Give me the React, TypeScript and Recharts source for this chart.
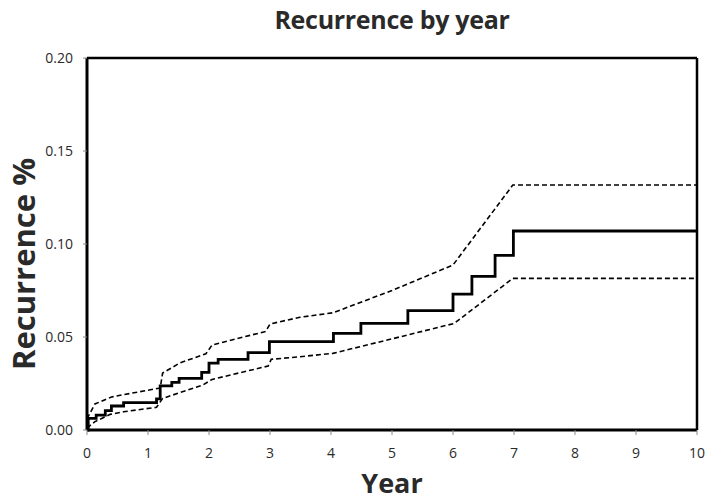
import React from 'react';
import { LineChart, Line, XAxis, YAxis, ReferenceLine, Label } from 'recharts';

// Kaplan-Meier style cumulative recurrence with 95% CI
const stepYears = [0, 0.02, 0.15, 0.3, 0.4, 0.6, 1.14, 1.2, 1.39, 1.51, 1.88, 2.0, 2.15, 2.64, 2.99, 4.04, 4.49, 5.26, 6.0, 6.31, 6.69, 6.99, 10];
const stepRate = [0, 0.0063, 0.008, 0.0104, 0.0129, 0.0147, 0.0167, 0.0237, 0.0256, 0.0278, 0.031, 0.036, 0.038, 0.0416, 0.0475, 0.052, 0.0573, 0.0642, 0.0731, 0.0826, 0.0939, 0.107, 0.107];

const upperYears = [0, 0.13, 0.4, 0.6, 1.2, 1.24, 1.52, 1.95, 2.05, 2.93, 3.0, 3.49, 4.03, 5.0, 6.0, 6.98, 10];
const upperRate = [0.006, 0.014, 0.0177, 0.019, 0.0226, 0.0306, 0.036, 0.041, 0.0457, 0.053, 0.057, 0.0606, 0.063, 0.075, 0.0887, 0.1317, 0.1317];

const lowerYears = [0, 0.13, 0.38, 0.6, 1.14, 1.24, 1.9, 2.05, 2.97, 3.02, 3.49, 4.03, 5.0, 6.02, 6.98, 10];
const lowerRate = [0.001, 0.0045, 0.0084, 0.0098, 0.0122, 0.017, 0.0242, 0.0272, 0.0344, 0.038, 0.0394, 0.0412, 0.049, 0.0573, 0.0815, 0.0815];

const xTicks = [0, 1, 2, 3, 4, 5, 6, 7, 8, 9, 10];
const yTicks = [0, 0.05, 0.1, 0.15, 0.2];

const toPoints = (xs: number[], ys: number[]) => xs.map((x, i) => ({ x, y: ys[i] }));

const stepData = toPoints(stepYears, stepRate);
const upperData = toPoints(upperYears, upperRate);
const lowerData = toPoints(lowerYears, lowerRate);

const font = '"Open Sans", sans-serif';

const App = () => {
  return (
    <div style={{ position: 'absolute', left: 0, top: 0, width: 709, height: 504, background: '#fff', fontFamily: font }}>
      <div
        style={{
          position: 'absolute',
          left: 0,
          width: 784,
          top: 2,
          textAlign: 'center',
          fontSize: 25,
          fontWeight: 700,
          color: '#2a2a2a',
          letterSpacing: -0.3,
        }}
      >
        Recurrence by year
      </div>
      <LineChart width={709} height={504} margin={{ top: 58, right: 12, bottom: 44, left: 0 }}>
        <XAxis
          dataKey="x"
          type="number"
          domain={[0, 10]}
          ticks={xTicks}
          interval={0}
          height={30}
          allowDataOverflow
          stroke="#000"
          strokeWidth={3}
          tickSize={5}
          tickMargin={13}
          tickLine={{ stroke: '#888', strokeWidth: 1 }}
          tick={{ fill: '#2a2a2a', fontSize: 14, fontFamily: font }}
        >
          <Label value="Year" position="bottom" offset={14} style={{ fontSize: 27, fontWeight: 700, fill: '#2a2a2a', fontFamily: font }} />
        </XAxis>
        <YAxis
          type="number"
          domain={[0, 0.2]}
          ticks={yTicks}
          interval={0}
          width={87}
          stroke="#000"
          strokeWidth={3}
          tickSize={4}
          tickMargin={10}
          tickLine={{ stroke: '#888', strokeWidth: 1 }}
          tickFormatter={(v: number) => v.toFixed(2)}
          tick={{ fill: '#2a2a2a', fontSize: 14, fontFamily: font }}
        >
          <Label
            value="Recurrence %"
            angle={-90}
            position="insideLeft"
            offset={24}
            dy={20}
            style={{ fontSize: 31, fontWeight: 700, fill: '#2a2a2a', fontFamily: font, textAnchor: 'middle' }}
          />
        </YAxis>
        <ReferenceLine y={0.2} stroke="#000" strokeWidth={2.5} />
        <ReferenceLine x={10} stroke="#000" strokeWidth={2.5} />
        <Line
          data={upperData}
          dataKey="y"
          type="linear"
          stroke="#000"
          strokeWidth={1.6}
          strokeDasharray="5 3"
          dot={false}
          isAnimationActive={false}
        />
        <Line
          data={lowerData}
          dataKey="y"
          type="linear"
          stroke="#000"
          strokeWidth={1.6}
          strokeDasharray="5 3"
          dot={false}
          isAnimationActive={false}
        />
        <Line
          data={stepData}
          dataKey="y"
          type="stepAfter"
          stroke="#000"
          strokeWidth={2.8}
          dot={false}
          isAnimationActive={false}
        />
      </LineChart>
    </div>
  );
};

export default App;
